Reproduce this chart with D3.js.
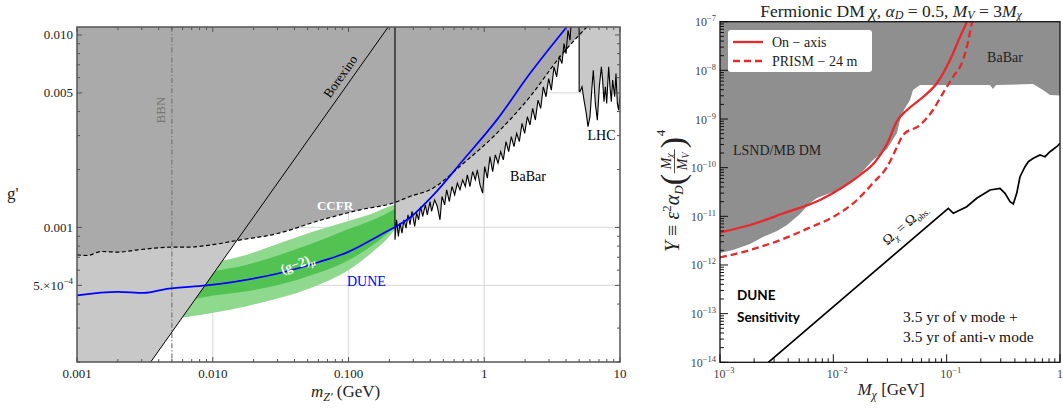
<!DOCTYPE html>
<html><head><meta charset="utf-8">
<script src="https://cdn.jsdelivr.net/npm/d3@7"></script>
<style>body{margin:0;background:#fff}svg{display:block}</style>
</head><body>
<svg id="c" width="1063" height="410"></svg>
<script>
// ================= LEFT PANEL DATA =================
const leftXTickVals = [0.001, 0.01, 0.1, 1, 10];
const leftXTickLabels = ["0.001", "0.010", "0.100", "1", "10"];
const leftYTickVals = [0.01, 0.005, 0.001, 5e-4];
const leftYTickLabels = ["0.010", "0.005", "0.001", "5e-4"];
const leftGridX = [0.01, 0.1, 1];
const leftGridY = [0.01, 0.005, 0.001, 5e-4];

// CCFR (dashed) boundary [m, g]
const ccfr = [[0.001,7.2e-4],[0.0012,7.15e-4],[0.0015,7.5e-4],[0.002,7.45e-4],[0.0028,7.65e-4],[0.005,7.9e-4],[0.0065,7.9e-4],[0.0107,8.2e-4],[0.015,8.55e-4],[0.03,9.3e-4],[0.062,1.09e-3],[0.122,1.235e-3],[0.214,1.34e-3],[0.284,1.45e-3],[0.4,1.57e-3],[0.7,2.15e-3],[1.235,3.08e-3],[2.17,4.77e-3],[3.61,7.7e-3],[5.69,0.011]];
// DUNE sensitivity (blue)
const dune = [[0.001,4.44e-4],[0.002,4.63e-4],[0.0031,4.57e-4],[0.0046,4.8e-4],[0.009,5.0e-4],[0.0297,5.75e-4],[0.06,6.6e-4],[0.097,7.4e-4],[0.17,9.1e-4],[0.29,1.14e-3],[0.45,1.55e-3],[0.7,2.24e-3],[1.23,3.6e-3],[2.17,6.3e-3],[4.05,0.011]];
// Borexino line
const borexino = [[0.00349,2.0e-4],[0.196,0.011]];
const bbnMass = 0.005;
// BaBar jagged boundary
const babar = [[0.220,8.63e-4],[0.226,1.096e-3],[0.233,8.99e-4],[0.2395,1.053e-3],[0.2477,9.35e-4],[0.2563,1.096e-3],[0.2652,9.93e-4],[0.2744,1.163e-3],[0.2838,1.033e-3],[0.2936,1.211e-3],[0.3072,1.012e-3],[0.3178,1.187e-3],[0.3287,1.096e-3],[0.34,1.285e-3],[0.3518,1.14e-3],[0.3681,1.311e-3],[0.3808,1.163e-3],[0.3985,1.364e-3],[0.4092,1.211e-3],[0.431,1.391e-3],[0.451,1.285e-3],[0.4721,1.096e-3],[0.4883,1.448e-3],[0.5109,1.311e-3],[0.5286,1.568e-3],[0.5531,1.364e-3],[0.5786,1.632e-3],[0.6053,1.477e-3],[0.6334,1.698e-3],[0.6627,1.568e-3],[0.6934,1.767e-3],[0.7254,1.632e-3],[0.7504,1.875e-3],[0.7852,1.632e-3],[0.8215,1.952e-3],[0.8595,1.767e-3],[0.889,1.991e-3],[0.9304,1.665e-3],[0.9734,1.507e-3],[1.007,2.071e-3],[1.054,1.803e-3],[1.102,2.334e-3],[1.153,1.952e-3],[1.207,2.381e-3],[1.263,2.155e-3],[1.321,2.477e-3],[1.382,2.243e-3],[1.446,2.79e-3],[1.513,2.477e-3],[1.583,2.962e-3],[1.656,2.63e-3],[1.733,3.083e-3],[1.813,2.79e-3],[1.897,3.474e-3],[1.985,3.083e-3],[2.077,3.761e-3],[2.173,3.405e-3],[2.273,4.153e-3],[2.379,3.614e-3],[2.489,4.587e-3],[2.604,4.153e-3],[2.724,5.38e-3],[2.85,4.775e-3],[2.982,5.94e-3],[3.12,5.17e-3],[3.265,6.83e-3],[3.415,6.06e-3],[3.573,7.69e-3],[3.738,7.11e-3],[3.868,9.02e-3],[4.002,8.0e-3],[4.14,0.01058],[4.282,9.39e-3],[4.379,0.0119]];
// LHC jagged boundary
const lhc = [[5.0,5.1e-3],[5.07,5.07e-3],[5.25,5.38e-3],[5.43,4.587e-3],[5.62,3.98e-3],[5.81,3.338e-3],[6.01,3.761e-3],[6.22,5.38e-3],[6.36,6.56e-3],[6.58,4.41e-3],[6.81,3.61e-3],[7.04,5.38e-3],[7.29,6.83e-3],[7.45,5.825e-3],[7.62,4.5e-3],[7.8,5.38e-3],[7.98,4.41e-3],[8.25,6.83e-3],[8.44,5.38e-3],[8.63,4.5e-3],[8.83,5.825e-3],[9.14,4.78e-3],[9.34,6.31e-3],[9.56,4.41e-3],[9.77,4.07e-3],[10,4.78e-3]];
// (g-2)_mu bands
const g2Mass     = [0.0045, 0.00574, 0.0101, 0.0178, 0.0313, 0.0551, 0.0969, 0.152, 0.214, 0.22];
const g2OuterTop = [6.05e-4, 6.16e-4, 6.59e-4, 7.22e-4, 8.30e-4, 9.54e-4, 1.075e-3, 1.187e-3, 1.311e-3, 1.32e-3];
const g2InnerTop = [5.35e-4, 5.46e-4, 5.92e-4, 6.41e-4, 7.22e-4, 8.30e-4, 9.73e-4, 1.096e-3, 1.235e-3, 1.25e-3];
const g2InnerBot = [4.08e-4, 4.14e-4, 4.43e-4, 4.66e-4, 5.05e-4, 5.69e-4, 6.67e-4, 8.14e-4, 9.92e-4, 1.01e-3];
const g2OuterBot = [3.35e-4, 3.39e-4, 3.60e-4, 3.90e-4, 4.31e-4, 4.91e-4, 5.92e-4, 7.51e-4, 9.54e-4, 9.8e-4];

// ================= RIGHT PANEL DATA =================
const rightXTickVals = [1e-3, 1e-2, 1e-1, 1];
const rightXTickExp = ["−3", "−2", "−1", ""];
const rightYTickVals = [1e-14, 1e-13, 1e-12, 1e-11, 1e-10, 1e-9, 1e-8, 1e-7];
const rightYTickExp = ["−14", "−13", "−12", "−11", "−10", "−9", "−8", "−7"];
// LSND/MB + BaBar excluded region lower boundary [M, Y]
const grayBoundary = [[0.001,1.763e-12],[1.302e-3,2.03e-12],[1.839e-3,2.70e-12],[2.395e-3,3.76e-12],[3.184e-3,4.99e-12],[3.902e-3,6.63e-12],[5.08e-3,1.116e-11],[6.22e-3,1.878e-11],[7.18e-3,2.38e-11],[9.93e-3,3.16e-11],[0.01403,5.07e-11],[0.01827,8.54e-11],[0.02239,1.437e-10],[0.02976,2.418e-10],[0.03646,5.16e-10],[0.03875,9.54e-10],[0.04202,1.531e-9],[0.04747,2.457e-9],[0.05047,3.94e-9],[0.05817,4.995e-9],[0.2412,5.0e-9],[0.2564,4.13e-9],[0.2725,5.0e-9],[0.5779,5.24e-9],[0.7079,3.94e-9],[0.8161,3.11e-9],[1.0,3.05e-9]];
const onAxis = [[0.001,4.65e-12],[1.839e-3,6.63e-12],[3.597e-3,1.143e-11],[7.63e-3,2.165e-11],[0.01217,4.004e-11],[0.01719,7.06e-11],[0.02332,1.307e-10],[0.02976,3.063e-10],[0.03646,9.1e-10],[0.04467,1.531e-9],[0.06182,2.833e-9],[0.08216,5.49e-9],[0.107,1.632e-8],[0.1311,4.84e-8],[0.1511,1e-7]];
const prism24 = [[0.001,1.425e-12],[1.839e-3,2.03e-12],[3.597e-3,3.42e-12],[6.22e-3,5.89e-12],[9.93e-3,9.68e-12],[0.01618,2.165e-11],[0.02239,4.84e-11],[0.02976,1.032e-10],[0.03646,2.658e-10],[0.04118,4.69e-10],[0.05817,7.53e-10],[0.07575,1.531e-9],[0.09284,3.42e-9],[0.1137,7.30e-9],[0.1394,1.632e-8],[0.1543,3.82e-8],[0.1673,1e-7]];
const relic = [[2.668e-3,1e-14],[0.1034,1.461e-11],[0.1145,1.154e-11],[0.1502,1.576e-11],[0.1841,2.346e-11],[0.2412,3.475e-11],[0.2956,3.765e-11],[0.3272,2.972e-11],[0.3622,1.998e-11],[0.3873,1.791e-11],[0.415,2.972e-11],[0.4437,6.52e-11],[0.4911,1.046e-10],[0.5253,1.326e-10],[0.5815,1.557e-10],[0.6664,1.82e-10],[0.7375,1.68e-10],[0.8161,2.13e-10],[0.9352,2.695e-10],[1.0,3.17e-10]];

// ================= DRAWING =================
const svg = d3.select("#c");
const serif = "'Liberation Serif','Times New Roman',serif";
const defs = svg.append("defs");
const near = (a,b) => Math.abs(Math.log10(a)-Math.log10(b)) < 1e-6;

// ---------- LEFT ----------
const L = {x0:77, x1:620, y0:27, y1:362};
const xL = d3.scaleLog().domain([0.001,10]).range([L.x0,L.x1]);
const yL = d3.scaleLog().domain([2e-4,0.011]).range([L.y1,L.y0]);
const gTop = yL.domain()[1], gBot = yL.domain()[0], mMin = xL.domain()[0], mMax = xL.domain()[1];
defs.append("clipPath").attr("id","clipL").append("rect")
  .attr("x",L.x0).attr("y",L.y0).attr("width",L.x1-L.x0).attr("height",L.y1-L.y0);
const gl = svg.append("g").attr("clip-path","url(#clipL)");
const lineL = d3.line().x(d=>xL(d[0])).y(d=>yL(d[1]));
const smoothL = d3.line().x(d=>xL(d[0])).y(d=>yL(d[1])).curve(d3.curveMonotoneX);

// grid
gl.selectAll(".gx").data(leftGridX).join("line")
  .attr("x1",d=>xL(d)).attr("x2",d=>xL(d)).attr("y1",L.y0).attr("y2",L.y1)
  .attr("stroke","#dedede").attr("stroke-width",1.3);
gl.selectAll(".gy").data(leftGridY).join("line")
  .attr("y1",d=>yL(d)).attr("y2",d=>yL(d)).attr("x1",L.x0).attr("x2",L.x1)
  .attr("stroke","#dedede").attr("stroke-width",1.3);

// g-2 bands
const band = (top, bot) => d3.area().x((d,i)=>xL(g2Mass[i])).y0((d,i)=>yL(bot[i])).y1((d,i)=>yL(top[i])).curve(d3.curveMonotoneX);
gl.append("path").datum(g2Mass).attr("d", band(g2OuterTop,g2OuterBot)).attr("fill","#8fd98f");
gl.append("path").datum(g2Mass).attr("d", band(g2InnerTop,g2InnerBot)).attr("fill","#52c352");

// light gray: Borexino, BaBar, LHC
const light = "#c8c8c8", dark = "#aaaaaa";
gl.append("path").attr("d", lineL([[mMin,gBot],...borexino,[mMin,gTop]])+"Z").attr("fill",light);
gl.append("path").attr("d", lineL([[babar[0][0],gTop],...babar,[babar[babar.length-1][0],gTop]])+"Z").attr("fill",light);
gl.append("path").attr("d", lineL([[lhc[0][0],gTop],...lhc,[mMax,gTop]])+"Z").attr("fill",light);
// dark gray: CCFR
gl.append("path").attr("d", d3.area().x(d=>xL(d[0])).y0(yL(gTop)).y1(d=>yL(d[1])).curve(d3.curveMonotoneX)(ccfr)).attr("fill",dark);

// lines
gl.append("line").attr("x1",xL(bbnMass)).attr("x2",xL(bbnMass)).attr("y1",L.y0).attr("y2",L.y1)
  .attr("stroke","#777").attr("stroke-width",1.2).attr("stroke-dasharray","5,2,1.2,2");
gl.append("path").attr("d", lineL([[babar[0][0],gTop],...babar])).attr("fill","none").attr("stroke","#000").attr("stroke-width",1.1);
gl.append("path").attr("d", lineL([[lhc[0][0],gTop],...lhc])).attr("fill","none").attr("stroke","#000").attr("stroke-width",1.1);
gl.append("path").attr("d", lineL(borexino)).attr("fill","none").attr("stroke","#000").attr("stroke-width",1);
gl.append("path").attr("d", smoothL(ccfr)).attr("fill","none").attr("stroke","#000").attr("stroke-width",1.2).attr("stroke-dasharray","4,2.5");
gl.append("path").attr("d", smoothL(dune)).attr("fill","none").attr("stroke","#0000ff").attr("stroke-width",1.7);

// labels
const tl = (x,y,t,opt={}) => {
  const e = svg.append("text").attr("x",x).attr("y",y).attr("font-family",opt.ff||serif)
   .attr("font-size",opt.fs||14).attr("fill",opt.fill||"#000").attr("text-anchor",opt.anchor||"start")
   .attr("font-weight",opt.fw||"normal");
  if (opt.rot!==undefined) e.attr("transform",`rotate(${opt.rot},${x},${y})`);
  if (t!==null) e.text(t);
  return e;
};
tl(164.5,110,"BBN",{fs:13,fill:"#777",anchor:"middle",rot:-90});
tl(344,79,"Borexino",{fs:13,anchor:"middle",rot:-54.6});
tl(335,210,"CCFR",{fs:13,fw:"bold",fill:"#fff",anchor:"middle"});
tl(528,181,"BaBar",{fs:14,anchor:"middle"});
tl(601.5,140,"LHC",{fs:14,anchor:"middle"});
tl(347,286,"DUNE",{fs:14,fill:"#0000ff"});
{
  const e = tl(299,268,null,{fs:13.5,fw:"bold",fill:"#fff",anchor:"middle",rot:-20});
  e.append("tspan").text("(g−2)");
  e.append("tspan").attr("font-size",9).attr("dy",3).attr("font-style","italic").text("μ");
}

// frame & ticks
const axc = "#555";
svg.append("rect").attr("x",L.x0).attr("y",L.y0).attr("width",L.x1-L.x0).attr("height",L.y1-L.y0)
  .attr("fill","none").attr("stroke",axc).attr("stroke-width",1.5);
const xMinorL = xL.ticks().filter(t=>!leftXTickVals.some(v=>near(v,t)));
const yMinorL = yL.ticks().filter(t=>!leftYTickVals.some(v=>near(v,t)));
const tk = svg.append("g").attr("stroke",axc).attr("stroke-width",1);
[[leftXTickVals,5],[xMinorL,3]].forEach(([vals,len])=>{
  tk.selectAll(null).data(vals).join("line").attr("x1",d=>xL(d)).attr("x2",d=>xL(d)).attr("y1",L.y1).attr("y2",L.y1-len);
  tk.selectAll(null).data(vals).join("line").attr("x1",d=>xL(d)).attr("x2",d=>xL(d)).attr("y1",L.y0).attr("y2",L.y0+len);
});
[[leftYTickVals,5],[yMinorL,3]].forEach(([vals,len])=>{
  tk.selectAll(null).data(vals).join("line").attr("y1",d=>yL(d)).attr("y2",d=>yL(d)).attr("x1",L.x0).attr("x2",L.x0+len);
  tk.selectAll(null).data(vals).join("line").attr("y1",d=>yL(d)).attr("y2",d=>yL(d)).attr("x1",L.x1).attr("x2",L.x1-len);
});
leftXTickVals.forEach((v,i)=>tl(xL(v),378,leftXTickLabels[i],{fs:13,anchor:"middle",fill:"#222"}));
leftYTickVals.forEach((v,i)=>{
  if (leftYTickLabels[i]==="5e-4") {
    const e = tl(73,yL(v)+4.5,null,{fs:13,anchor:"end",fill:"#222"});
    e.append("tspan").text("5.×10");
    e.append("tspan").attr("font-size",9).attr("dy",-6).text("−4");
  } else tl(73,yL(v)+4.5,leftYTickLabels[i],{fs:13,anchor:"end",fill:"#222"});
});
tl(7,199,"g'",{fs:17,fill:"#222"});
{
  const e = tl(311,397,null,{fs:17,fill:"#222"});
  e.append("tspan").attr("font-style","italic").text("m");
  e.append("tspan").attr("font-style","italic").attr("font-size",12).attr("dy",4).text("Z'");
  e.append("tspan").attr("dy",-4).text("  (GeV)");
}

// ---------- RIGHT ----------
const R = {x0:720, x1:1060, y0:21.7, y1:362.3};
const xR = d3.scaleLog().domain([1e-3,1]).range([R.x0,R.x1]);
const yR = d3.scaleLog().domain([1e-14,1e-7]).range([R.y1,R.y0]);
const yRT = yR.domain()[1];
defs.append("clipPath").attr("id","clipR").append("rect")
  .attr("x",R.x0).attr("y",R.y0).attr("width",R.x1-R.x0).attr("height",R.y1-R.y0);
const gr = svg.append("g").attr("clip-path","url(#clipR)");
const lineR = d3.line().x(d=>xR(d[0])).y(d=>yR(d[1]));
const smoothR = d3.line().x(d=>xR(d[0])).y(d=>yR(d[1])).curve(d3.curveMonotoneX);
gr.append("path").attr("d", lineR([[xR.domain()[0],yRT],...grayBoundary,[xR.domain()[1],yRT]])+"Z").attr("fill","#8f8f8f");
gr.append("path").attr("d", lineR(relic)).attr("fill","none").attr("stroke","#000").attr("stroke-width",1.7);
gr.append("path").attr("d", smoothR(onAxis)).attr("fill","none").attr("stroke","#e8282b").attr("stroke-width",2.3);
gr.append("path").attr("d", smoothR(prism24)).attr("fill","none").attr("stroke","#e8282b").attr("stroke-width",2.3).attr("stroke-dasharray","7,4");

svg.append("rect").attr("x",R.x0).attr("y",R.y0).attr("width",R.x1-R.x0).attr("height",R.y1-R.y0)
  .attr("fill","none").attr("stroke","#111").attr("stroke-width",1.3);
const tkR = svg.append("g").attr("stroke","#111").attr("stroke-width",1);
const xMinorR = xR.ticks().filter(t=>!rightXTickVals.some(v=>near(v,t)));
const yMinorR = yR.ticks().filter(t=>!rightYTickVals.some(v=>near(v,t)));
[[rightXTickVals,8],[xMinorR,4]].forEach(([vals,len])=>{
  tkR.selectAll(null).data(vals).join("line").attr("x1",d=>xR(d)).attr("x2",d=>xR(d)).attr("y1",R.y1).attr("y2",R.y1-len);
});
[[rightYTickVals,8],[yMinorR,4]].forEach(([vals,len])=>{
  tkR.selectAll(null).data(vals).join("line").attr("y1",d=>yR(d)).attr("y2",d=>yR(d)).attr("x1",R.x0).attr("x2",R.x0+len);
});
const pow = (x,y,exp,anchor)=>{
  const e = tl(x,y,null,{fs:12,anchor,fill:"#444"});
  if (exp==="") { e.text("1"); return; }
  e.append("tspan").text("10");
  e.append("tspan").attr("font-size",8.5).attr("dy",-5).text(exp);
};
rightXTickVals.forEach((v,i)=>pow(i===3?xR(v)-3:xR(v)+4, 378, rightXTickExp[i], i===3?"start":"middle"));
rightYTickVals.forEach((v,i)=>pow(716, yR(v)+4.5, rightYTickExp[i], "end"));

// legend
svg.append("rect").attr("x",728).attr("y",30).attr("width",144).attr("height",42).attr("rx",3).attr("fill","#fff");
svg.append("line").attr("x1",733).attr("x2",763).attr("y1",42).attr("y2",42).attr("stroke","#e8282b").attr("stroke-width",2.3);
svg.append("line").attr("x1",733).attr("x2",763).attr("y1",61).attr("y2",61).attr("stroke","#e8282b").attr("stroke-width",2.3).attr("stroke-dasharray","7,4");
tl(772,47,"On − axis",{fs:14,fill:"#222"});
tl(772,66,"PRISM − 24 m",{fs:14,fill:"#222"});

// texts
tl(1005,62,"BaBar",{fs:14,anchor:"middle",fill:"#222"});
tl(733,155,"LSND/MB DM",{fs:14,fill:"#222"});
tl(737,300,"DUNE",{fs:13.5,fw:"bold",ff:"Lato,'Open Sans',sans-serif"});
tl(737,322,"Sensitivity",{fs:13.5,fw:"bold",ff:"Lato,'Open Sans',sans-serif"});
tl(903,322,"3.5 yr of ν mode +",{fs:15.5,fill:"#111"});
tl(903,342,"3.5 yr of anti-ν mode",{fs:15.5,fill:"#111"});
{
  const e = tl(908,228,null,{fs:14,anchor:"middle",fill:"#111",rot:-40.5});
  e.append("tspan").text("Ω");
  e.append("tspan").attr("font-size",9).attr("dy",3).attr("font-style","italic").text("χ");
  e.append("tspan").attr("dy",-3).text(" = Ω");
  e.append("tspan").attr("font-size",9).attr("dy",3).text("obs.");
}
{
  const e = tl(891,16.5,null,{fs:17.5,anchor:"middle",fill:"#222"});
  e.append("tspan").text("Fermionic DM ");
  e.append("tspan").attr("font-style","italic").text("χ");
  e.append("tspan").text(",  ");
  e.append("tspan").attr("font-style","italic").text("α");
  e.append("tspan").attr("font-style","italic").attr("font-size",12).attr("dy",2.5).text("D");
  e.append("tspan").attr("dy",-2.5).text(" = 0.5,  ");
  e.append("tspan").attr("font-style","italic").text("M");
  e.append("tspan").attr("font-style","italic").attr("font-size",12).attr("dy",2.5).text("V");
  e.append("tspan").attr("dy",-2.5).text(" = 3");
  e.append("tspan").attr("font-style","italic").text("M");
  e.append("tspan").attr("font-style","italic").attr("font-size",12).attr("dy",2.5).text("χ");
}
{
  const e = tl(891,395,null,{fs:17,anchor:"middle",fill:"#222"});
  e.append("tspan").attr("font-style","italic").text("M");
  e.append("tspan").attr("font-style","italic").attr("font-size",12).attr("dy",4).text("χ");
  e.append("tspan").attr("dy",-4).text(" [GeV]");
}
// y-axis title (rotated)
{
  const g = svg.append("g").attr("transform","translate(679,252) rotate(-90)");
  const t = g.append("text").attr("x",0).attr("y",0).attr("font-family",serif).attr("font-size",20).attr("fill","#222");
  t.append("tspan").attr("font-style","italic").text("Y");
  t.append("tspan").text(" ≡ ");
  t.append("tspan").attr("font-style","italic").text("ε");
  t.append("tspan").attr("font-size",13).attr("dy",-8).text("2");
  t.append("tspan").attr("dy",8).attr("font-style","italic").text("α");
  t.append("tspan").attr("font-style","italic").attr("font-size",13).attr("dy",4).text("D");
  t.append("tspan").attr("dy",-4).text(" ");
  const w = t.node().getComputedTextLength();
  g.append("text").attr("x",w).attr("y",5).attr("font-family",serif).attr("font-size",34).attr("fill","#222").text("(");
  const fx = w+12;
  const num = g.append("text").attr("x",fx+12).attr("y",-8).attr("text-anchor","middle").attr("font-family",serif).attr("font-size",14).attr("fill","#222");
  num.append("tspan").attr("font-style","italic").text("M");
  num.append("tspan").attr("font-style","italic").attr("font-size",10).attr("dy",2).text("χ");
  g.append("line").attr("x1",fx).attr("x2",fx+24).attr("y1",-4.5).attr("y2",-4.5).attr("stroke","#222").attr("stroke-width",0.8);
  const den = g.append("text").attr("x",fx+12).attr("y",8).attr("text-anchor","middle").attr("font-family",serif).attr("font-size",14).attr("fill","#222");
  den.append("tspan").attr("font-style","italic").text("M");
  den.append("tspan").attr("font-style","italic").attr("font-size",10).attr("dy",2).text("V");
  g.append("text").attr("x",fx+25).attr("y",5).attr("font-family",serif).attr("font-size",34).attr("fill","#222").text(")");
  g.append("text").attr("x",fx+37).attr("y",-14).attr("font-family",serif).attr("font-size",13).attr("fill","#222").text("4");
}
</script>
</body></html>
